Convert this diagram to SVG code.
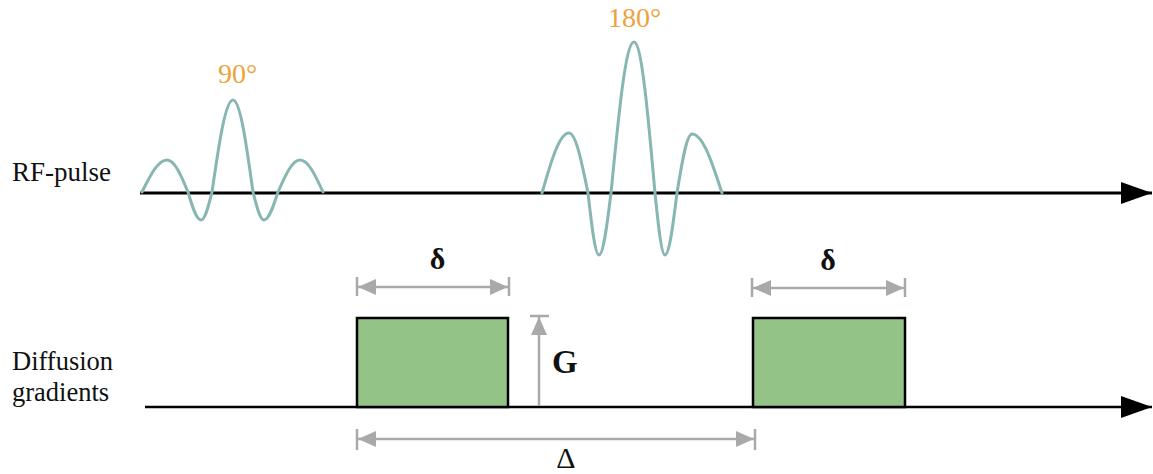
<svg xmlns="http://www.w3.org/2000/svg" width="1153" height="474" viewBox="0 0 1153 474">
<style>
.axis{stroke:#000;fill:none}
.pulse{stroke:#88b6b2;stroke-width:3;fill:none;stroke-linejoin:round;stroke-linecap:round}
.dim{stroke:#a9a9a9;stroke-width:2.5;fill:none}
.grad{fill:#94c387;stroke:#000;stroke-width:2.5}
.lbl{font-family:"Liberation Serif","Times New Roman",serif;fill:#111}
.ang{font-family:"Liberation Serif","Times New Roman",serif;fill:#eda33c;font-size:28px}
.sym{font-family:"Liberation Serif","Times New Roman",serif;font-weight:bold;fill:#111}
</style>
<defs>
<marker id="ah" markerUnits="userSpaceOnUse" markerWidth="32" markerHeight="24" refX="31" refY="11" orient="auto">
<path d="M0,0 L31,11 L0,22 Z" fill="#000"/>
</marker>
<marker id="gh" markerUnits="userSpaceOnUse" markerWidth="20" markerHeight="18" refX="18" refY="8" orient="auto-start-reverse">
<path d="M0,0 L18,8 L0,16 Z" fill="#a9a9a9"/>
</marker>
</defs>
<g id="labels">
<text class="lbl" x="12" y="181" font-size="27">RF-pulse</text>
<text class="lbl" x="12" y="370" font-size="26.5">Diffusion</text>
<text class="lbl" x="12" y="401" font-size="26.5">gradients</text>
</g>
<g id="connectors">
<line class="axis" x1="140" y1="193" x2="1152" y2="193" stroke-width="3" marker-end="url(#ah)"/>
<line class="axis" x1="145" y1="407" x2="1152" y2="407" stroke-width="2.5" marker-end="url(#ah)"/>
</g>
<g id="pulse90">
<path class="pulse" d="M142,192 C150.4,175.2 158,160 167,160 C174.6,160 181,175.2 188,192 C192.3,206.7 196.3,220 201,220 C205,220 208.3,206.7 212,192 C219,143.7 225.4,100 233,100 C240.2,100 246.3,143.7 253,192 C256.7,206.7 260,220 264,220 C269,220 273.3,206.7 278,192 C285.4,175.2 292.1,160 300,160 C308.3,160 315.3,175.2 323,192"/>
<text class="ang" x="218" y="83">90°</text>
</g>
<g id="pulse180">
<path class="pulse" d="M542,193 C551,161.5 559.3,133 569,133 C575.8,133 581.6,161.5 588,193 C591.7,225.6 595,255 599,255 C603.3,255 607,225.6 611,193 C618.7,113.7 625.7,42 634,42 C641.6,42 648,113.7 655,193 C658.3,225.6 661.4,255 665,255 C669.3,255 673,225.6 677,193 C682,162 686.6,134 692,134 C702.8,134 712,162 722,193"/>
<text class="ang" x="608" y="27">180°</text>
</g>
<g id="gradient1">
<rect class="grad" x="357" y="318" width="151" height="89"/>
</g>
<g id="gradient2">
<rect class="grad" x="753" y="318" width="152" height="89"/>
</g>
<g id="dimensions">
<line class="dim" x1="357" y1="277" x2="357" y2="296"/>
<line class="dim" x1="509" y1="277" x2="509" y2="296"/>
<line class="dim" x1="358" y1="287" x2="508" y2="287" marker-start="url(#gh)" marker-end="url(#gh)"/>
<text class="sym" x="437.5" y="269" font-size="30" text-anchor="middle">δ</text>
<line class="dim" x1="752" y1="278" x2="752" y2="297"/>
<line class="dim" x1="905" y1="278" x2="905" y2="297"/>
<line class="dim" x1="753" y1="288" x2="904" y2="288" marker-start="url(#gh)" marker-end="url(#gh)"/>
<text class="sym" x="828" y="270" font-size="30" text-anchor="middle">δ</text>
<line class="dim" x1="530" y1="316" x2="549" y2="316"/>
<line class="dim" x1="539" y1="406" x2="539" y2="317" marker-end="url(#gh)"/>
<text class="sym" x="552" y="373" font-size="33">G</text>
<line class="dim" x1="357" y1="429" x2="357" y2="450"/>
<line class="dim" x1="755" y1="429" x2="755" y2="450"/>
<line class="dim" x1="358" y1="439" x2="754" y2="439" marker-start="url(#gh)" marker-end="url(#gh)"/>
<text class="lbl" x="566" y="468" font-size="30" text-anchor="middle">Δ</text>
</g>
</svg>
